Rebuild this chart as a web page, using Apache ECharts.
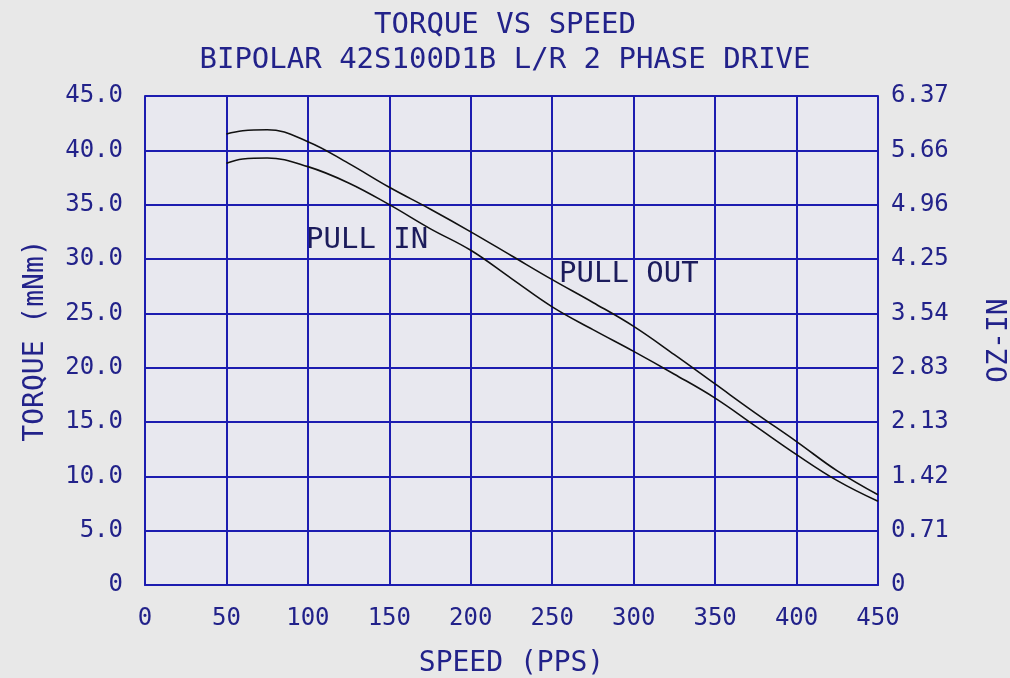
<!DOCTYPE html>
<html>
<head>
<meta charset="utf-8">
<script src="https://cdn.jsdelivr.net/npm/echarts@6/dist/echarts.min.js"></script>
<style>
  html, body { margin: 0; padding: 0; background: #e8e8e8; }
  #chart { width: 1010px; height: 678px; }
</style>
</head>
<body>
<div id="chart"></div>
<script>
// speed (pps) sample points
const speed = [50, 60, 75, 100, 125, 150, 175, 200, 225, 250, 275, 300, 325, 350, 375, 400, 425, 450]
// torque in mNm
const pullOut = [41.5, 41.8, 41.9, 40.8, 38.8, 36.6, 34.6, 32.5, 30.3, 28.1, 26.0, 23.8, 21.2, 18.5, 15.8, 13.2, 10.5, 8.3]
const pullIn = [38.8, 39.2, 39.3, 38.5, 37.0, 35.0, 32.8, 30.8, 28.2, 25.6, 23.5, 21.5, 19.4, 17.2, 14.6, 12.0, 9.6, 7.7]
// tick labels
const mNmLabels = ['0', '5.0', '10.0', '15.0', '20.0', '25.0', '30.0', '35.0', '40.0', '45.0']
const ozLabels = ['0', '0.71', '1.42', '2.13', '2.83', '3.54', '4.25', '4.96', '5.66', '6.37']

const BLUE = '#1c1cb0'
const TEXT = '#22228a'
const FONT = 'DejaVu Sans Mono'

const chart = echarts.init(document.getElementById('chart'))

const pairs = arr => speed.map((s, i) => [s, arr[i]])

chart.setOption({
  backgroundColor: '#e8e8e8',
  animation: false,
  title: {
    text: 'TORQUE VS SPEED\nBIPOLAR 42S100D1B L/R 2 PHASE DRIVE',
    left: 'center',
    top: 3,
    textStyle: {
      color: TEXT,
      fontFamily: FONT,
      fontWeight: 'normal',
      fontSize: 29,
      lineHeight: 35
    }
  },
  grid: {
    left: 145,
    right: 132,
    top: 96,
    bottom: 93,
    outerBoundsMode: 'none',
    containLabel: false,
    show: true,
    backgroundColor: '#e8e8ef',
    borderWidth: 0
  },
  xAxis: {
    type: 'value',
    min: 0,
    max: 450,
    interval: 50,
    name: 'SPEED (PPS)',
    nameLocation: 'middle',
    nameGap: 65,
    nameTextStyle: { color: TEXT, fontFamily: FONT, fontSize: 28 },
    axisLine: { lineStyle: { color: BLUE, width: 2 } },
    axisTick: { show: false },
    axisLabel: { color: TEXT, fontFamily: FONT, fontSize: 24, margin: 22 },
    splitLine: { lineStyle: { color: BLUE, width: 2 } }
  },
  yAxis: [
    {
      type: 'value',
      min: 0,
      max: 45,
      interval: 5,
      name: 'TORQUE (mNm)',
      nameLocation: 'middle',
      nameRotate: 90,
      nameGap: 95,
      nameTextStyle: { color: TEXT, fontFamily: FONT, fontSize: 28 },
      axisLine: { show: true, lineStyle: { color: BLUE, width: 2 } },
      axisTick: { show: false },
      axisLabel: {
        color: TEXT,
        fontFamily: FONT,
        fontSize: 24,
        margin: 22,
        formatter: v => mNmLabels[Math.round(v / 5)]
      },
      splitLine: { lineStyle: { color: BLUE, width: 2 } }
    },
    {
      type: 'value',
      position: 'right',
      min: 0,
      max: 45,
      interval: 5,
      name: 'OZ-IN',
      nameLocation: 'middle',
      nameRotate: 90,
      nameGap: 108,
      nameTextStyle: { color: TEXT, fontFamily: FONT, fontSize: 28 },
      axisLine: { show: true, lineStyle: { color: BLUE, width: 2 } },
      axisTick: { show: false },
      axisLabel: {
        color: TEXT,
        fontFamily: FONT,
        fontSize: 24,
        margin: 13,
        formatter: v => ozLabels[Math.round(v / 5)]
      },
      splitLine: { show: false }
    }
  ],
  series: [
    {
      name: 'PULL OUT',
      type: 'line',
      smooth: 0.4,
      symbol: 'none',
      lineStyle: { color: '#111', width: 1.6 },
      data: pairs(pullOut)
    },
    {
      name: 'PULL IN',
      type: 'line',
      smooth: 0.4,
      symbol: 'none',
      lineStyle: { color: '#111', width: 1.6 },
      data: pairs(pullIn)
    }
  ],
  graphic: [
    {
      type: 'text',
      left: 306,
      top: 226,
      style: { text: 'PULL IN', fill: '#1c1c5c', font: '29px "DejaVu Sans Mono"' }
    },
    {
      type: 'text',
      left: 559,
      top: 260,
      style: { text: 'PULL OUT', fill: '#1c1c5c', font: '29px "DejaVu Sans Mono"' }
    }
  ]
})
</script>
</body>
</html>
